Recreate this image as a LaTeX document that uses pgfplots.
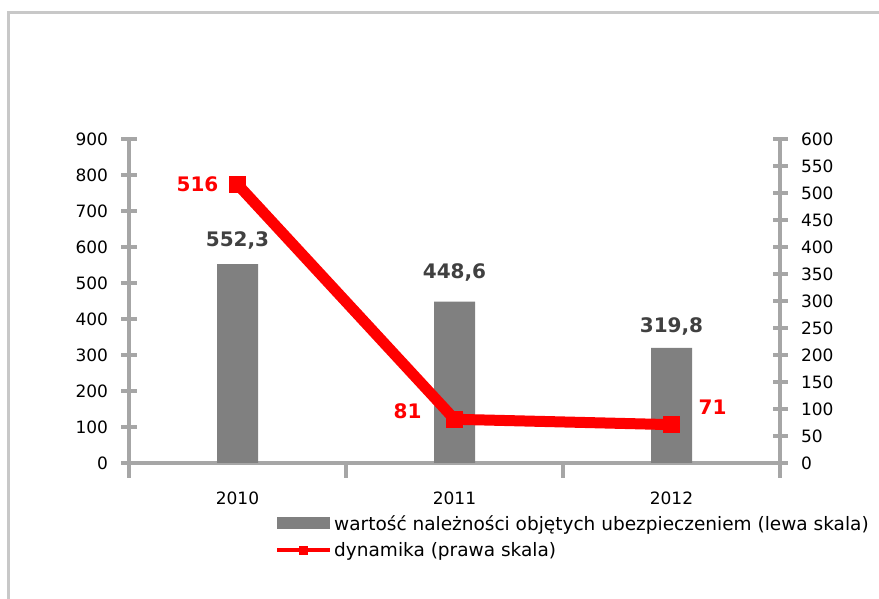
\documentclass[border=0pt]{standalone}
\usepackage{pgfplots}
\pgfplotsset{compat=1.18}
\usepackage{pgfplotstable}
\usepackage{fontspec}
\setmainfont{DejaVu Sans}

\definecolor{axgray}{HTML}{A6A6A6}
\definecolor{bargray}{HTML}{808080}
\definecolor{framegray}{HTML}{C8C8C8}
\definecolor{labgray}{HTML}{404040}

% wartosc naleznosci (lewa skala)
\pgfplotstableread{
x y lab dx dy
0 552.3 552,3 0 24
1 448.6 448,6 0 29
2 319.8 319,8 0 21
}\wartosc

% dynamika (prawa skala)
\pgfplotstableread{
x y lab dx dy
0 516 516 -40 0
1 81 81 -47 8
2 71 71 41 17
}\dynamika

\pgfplotsset{
  common/.style={
    at={(129pt,136pt)}, anchor=south west,
    scale only axis, width=651pt, height=324pt,
    xmin=-0.5, xmax=2.5, ymin=0,
    clip=false,
    axis line style={axgray, line width=3.5pt},
    tick align=center, major tick length=15pt, minor tick length=15pt,
    tick style={axgray, line width=3.5pt},
    ticklabel style={font=\fontsize{17}{19}\selectfont},
    /pgf/number format/assume math mode=true,
  },
}

\begin{document}
\begin{tikzpicture}
\useasboundingbox (0pt,0pt) rectangle (879pt,599pt);
\draw[framegray, line width=3pt] (8pt,-5pt) -- (8pt,586pt) -- (885pt,586pt);

\begin{axis}[
  common,
  ymax=900,
  axis x line*=bottom, axis y line*=left,
  xtick={-0.5,0.5,1.5,2.5}, xticklabels={},
  extra x ticks={0,1,2},
  extra x tick labels={2010,2011,2012},
  extra x tick style={major tick length=0pt},
  xticklabel style={yshift=-25pt},
  ytick={0,100,...,900},
  yticklabel style={xshift=-10pt},
  ybar, bar width=41pt,
  point meta=explicit symbolic,
  visualization depends on={\thisrow{dx} \as \dx},
  visualization depends on={\thisrow{dy} \as \dy},
  nodes near coords,
  every node near coord/.style={anchor=center, xshift=\dx pt, yshift=\dy pt,
    font=\fontsize{20}{22}\selectfont\bfseries, text=labgray},
]
  \addplot[fill=bargray, draw=none] table[x=x, y=y, meta=lab] {\wartosc};
\end{axis}

\begin{axis}[
  common,
  ymax=600,
  axis x line=none, axis y line*=right,
  ytick={0,50,...,600},
  yticklabel style={xshift=10pt},
  point meta=explicit symbolic,
  visualization depends on={\thisrow{dx} \as \dx},
  visualization depends on={\thisrow{dy} \as \dy},
  nodes near coords,
  every node near coord/.style={anchor=center, xshift=\dx pt, yshift=\dy pt,
    font=\fontsize{20}{22}\selectfont\bfseries, text=red},
  legend style={at={(0.2243,-0.1545)}, anchor=north west, draw=none, fill=none,
    inner sep=0pt, row sep=7pt,
    font=\fontsize{18.5}{20}\selectfont},
  legend cell align=left,
]
  \addlegendimage{legend image code/.code={
    \fill[bargray, draw=none] (0pt,-6pt) rectangle (53pt,6pt);}}
  \addlegendentry{wartość należności objętych ubezpieczeniem (lewa skala)}
  \addplot[red, line width=11pt, mark=square*, mark size=8pt,
    mark options={solid, line width=0.5pt, fill=red},
    legend image code/.code={
      \draw[red, line width=4pt] (0pt,0pt) -- (53pt,0pt);
      \fill[red, draw=none] (22pt,-4.5pt) rectangle (31pt,4.5pt);}]
    table[x=x, y=y, meta=lab] {\dynamika};
  \addlegendentry{dynamika (prawa skala)}
\end{axis}
\end{tikzpicture}
\end{document}
